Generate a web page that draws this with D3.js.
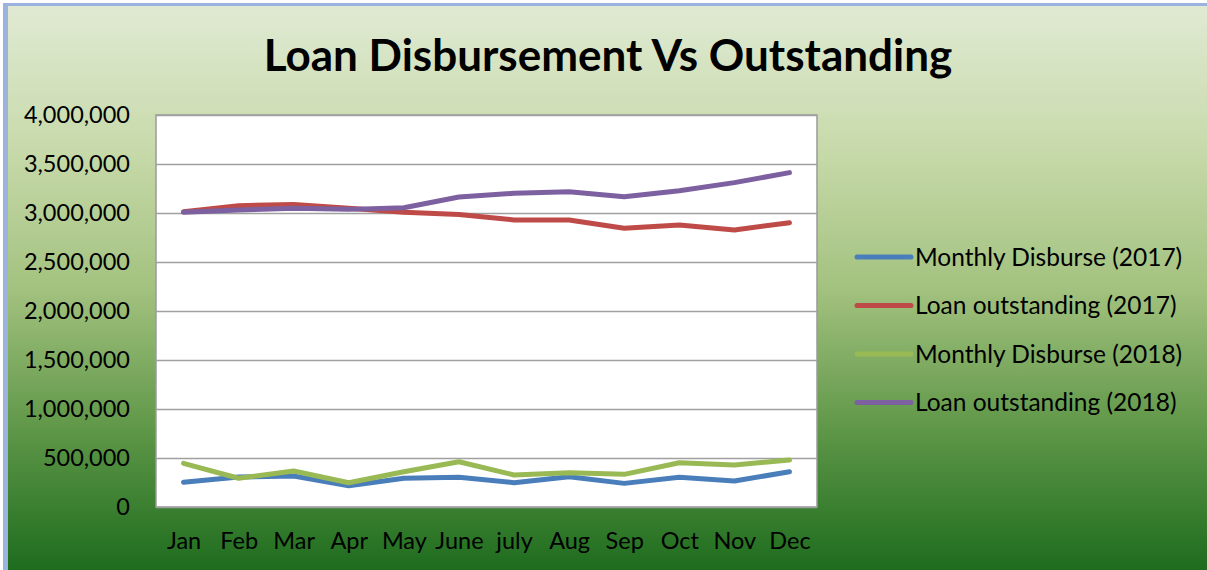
<!DOCTYPE html>
<html>
<head>
<meta charset="utf-8">
<script src="https://cdn.jsdelivr.net/npm/d3@7"></script>
<style>
  body { margin: 0; }
  svg { display: block; font-family: Lato, "Open Sans", sans-serif; }
</style>
</head>
<body>
<svg id="chart" width="1207" height="570"></svg>
<script>
// chart data
const months = ["Jan", "Feb", "Mar", "Apr", "May", "June", "july", "Aug", "Sep", "Oct", "Nov", "Dec"];
const disburse2017 = [252000, 306000, 316000, 217000, 293000, 303000, 248000, 309000, 241000, 303000, 265000, 360000];
const outstanding2017 = [3013000, 3074000, 3088000, 3048000, 3007000, 2985000, 2929000, 2929000, 2844000, 2878000, 2827000, 2901000];
const disburse2018 = [446000, 293000, 367000, 248000, 360000, 462000, 327000, 350000, 333000, 452000, 429000, 480000];
const outstanding2018 = [3007000, 3030000, 3048000, 3037000, 3054000, 3163000, 3201000, 3218000, 3166000, 3228000, 3310000, 3412000];
const yTicks = [0, 500000, 1000000, 1500000, 2000000, 2500000, 3000000, 3500000, 4000000];

const series = [
  { name: "Monthly Disburse (2017)", values: disburse2017, color: "#4a7ebb" },
  { name: "Loan outstanding (2017)", values: outstanding2017, color: "#be4b48" },
  { name: "Monthly Disburse (2018)", values: disburse2018, color: "#98b954" },
  { name: "Loan outstanding (2018)", values: outstanding2018, color: "#7d60a0" },
];

const svg = d3.select("#chart");
const W = 1207, H = 570;

// background gradient
const defs = svg.append("defs");
const grad = defs.append("linearGradient")
  .attr("id", "bg")
  .attr("x1", 0).attr("y1", 0).attr("x2", 0).attr("y2", 1);
[["0%", "#e0ead3"], ["25%", "#c8daab"], ["50%", "#a3c27f"], ["75%", "#5f9748"], ["100%", "#1e6c1e"]]
  .forEach(([o, c]) => grad.append("stop").attr("offset", o).attr("stop-color", c));

svg.append("rect").attr("width", W).attr("height", H).attr("fill", "#ffffff");
svg.append("rect").attr("x", 3).attr("y", 3).attr("width", W - 3).attr("height", H - 3).attr("fill", "#9db3df");
svg.append("rect").attr("x", 8).attr("y", 6).attr("width", W - 8).attr("height", H - 6).attr("fill", "url(#bg)");

const plot = { left: 156, right: 817, top: 115, bottom: 507 };

const x = d3.scalePoint()
  .domain(months)
  .range([plot.left, plot.right])
  .padding(0.5);

const y = d3.scaleLinear()
  .domain([0, 4000000])
  .range([plot.bottom, plot.top]);

// plot area
svg.append("rect")
  .attr("x", plot.left)
  .attr("y", plot.top)
  .attr("width", plot.right - plot.left)
  .attr("height", plot.bottom - plot.top)
  .attr("fill", "#ffffff")
  .attr("stroke", "#9a9a9a")
  .attr("stroke-width", 1.5);

// gridlines + y labels
const yAxis = svg.append("g")
  .attr("transform", `translate(${plot.left},0)`)
  .call(
    d3.axisLeft(y)
      .tickValues(yTicks)
      .tickSize(-(plot.right - plot.left))
      .tickPadding(26)
      .tickFormat(d3.format(","))
  );
yAxis.select(".domain").remove();
yAxis.selectAll(".tick line").attr("stroke", "#a0a0a0").attr("stroke-width", 1.6);
yAxis.selectAll(".tick text")
  .attr("fill", "#000")
  .attr("font-size", 23.5)
  .attr("font-family", "Lato, sans-serif");

// x labels
const xAxis = svg.append("g")
  .attr("transform", `translate(0,${plot.bottom})`)
  .call(d3.axisBottom(x).tickSize(0).tickPadding(25));
xAxis.select(".domain").remove();
xAxis.selectAll(".tick text")
  .attr("fill", "#000")
  .attr("font-size", 23.5)
  .attr("font-family", "Lato, sans-serif");

// lines
const line = d3.line()
  .x((d, i) => x(months[i]))
  .y((d) => y(d));

series.forEach((s) => {
  svg.append("path")
    .datum(s.values)
    .attr("fill", "none")
    .attr("stroke", s.color)
    .attr("stroke-width", 5)
    .attr("stroke-linecap", "round")
    .attr("stroke-linejoin", "round")
    .attr("d", line);
});

// title
svg.append("text")
  .attr("x", 608)
  .attr("y", 71)
  .attr("text-anchor", "middle")
  .attr("font-size", 44)
  .attr("font-weight", "bold")
  .attr("fill", "#000")
  .text("Loan Disbursement Vs Outstanding");

// legend
const legend = svg.append("g").attr("transform", "translate(857,257)");
series.forEach((s, i) => {
  const row = legend.append("g").attr("transform", `translate(0,${i * 48.5})`);
  row.append("line")
    .attr("x1", 0).attr("x2", 54)
    .attr("stroke", s.color)
    .attr("stroke-width", 5)
    .attr("stroke-linecap", "round");
  row.append("text")
    .attr("x", 58)
    .attr("dy", "0.35em")
    .attr("font-size", 24.5)
    .attr("fill", "#000")
    .text(s.name);
});
</script>
</body>
</html>
